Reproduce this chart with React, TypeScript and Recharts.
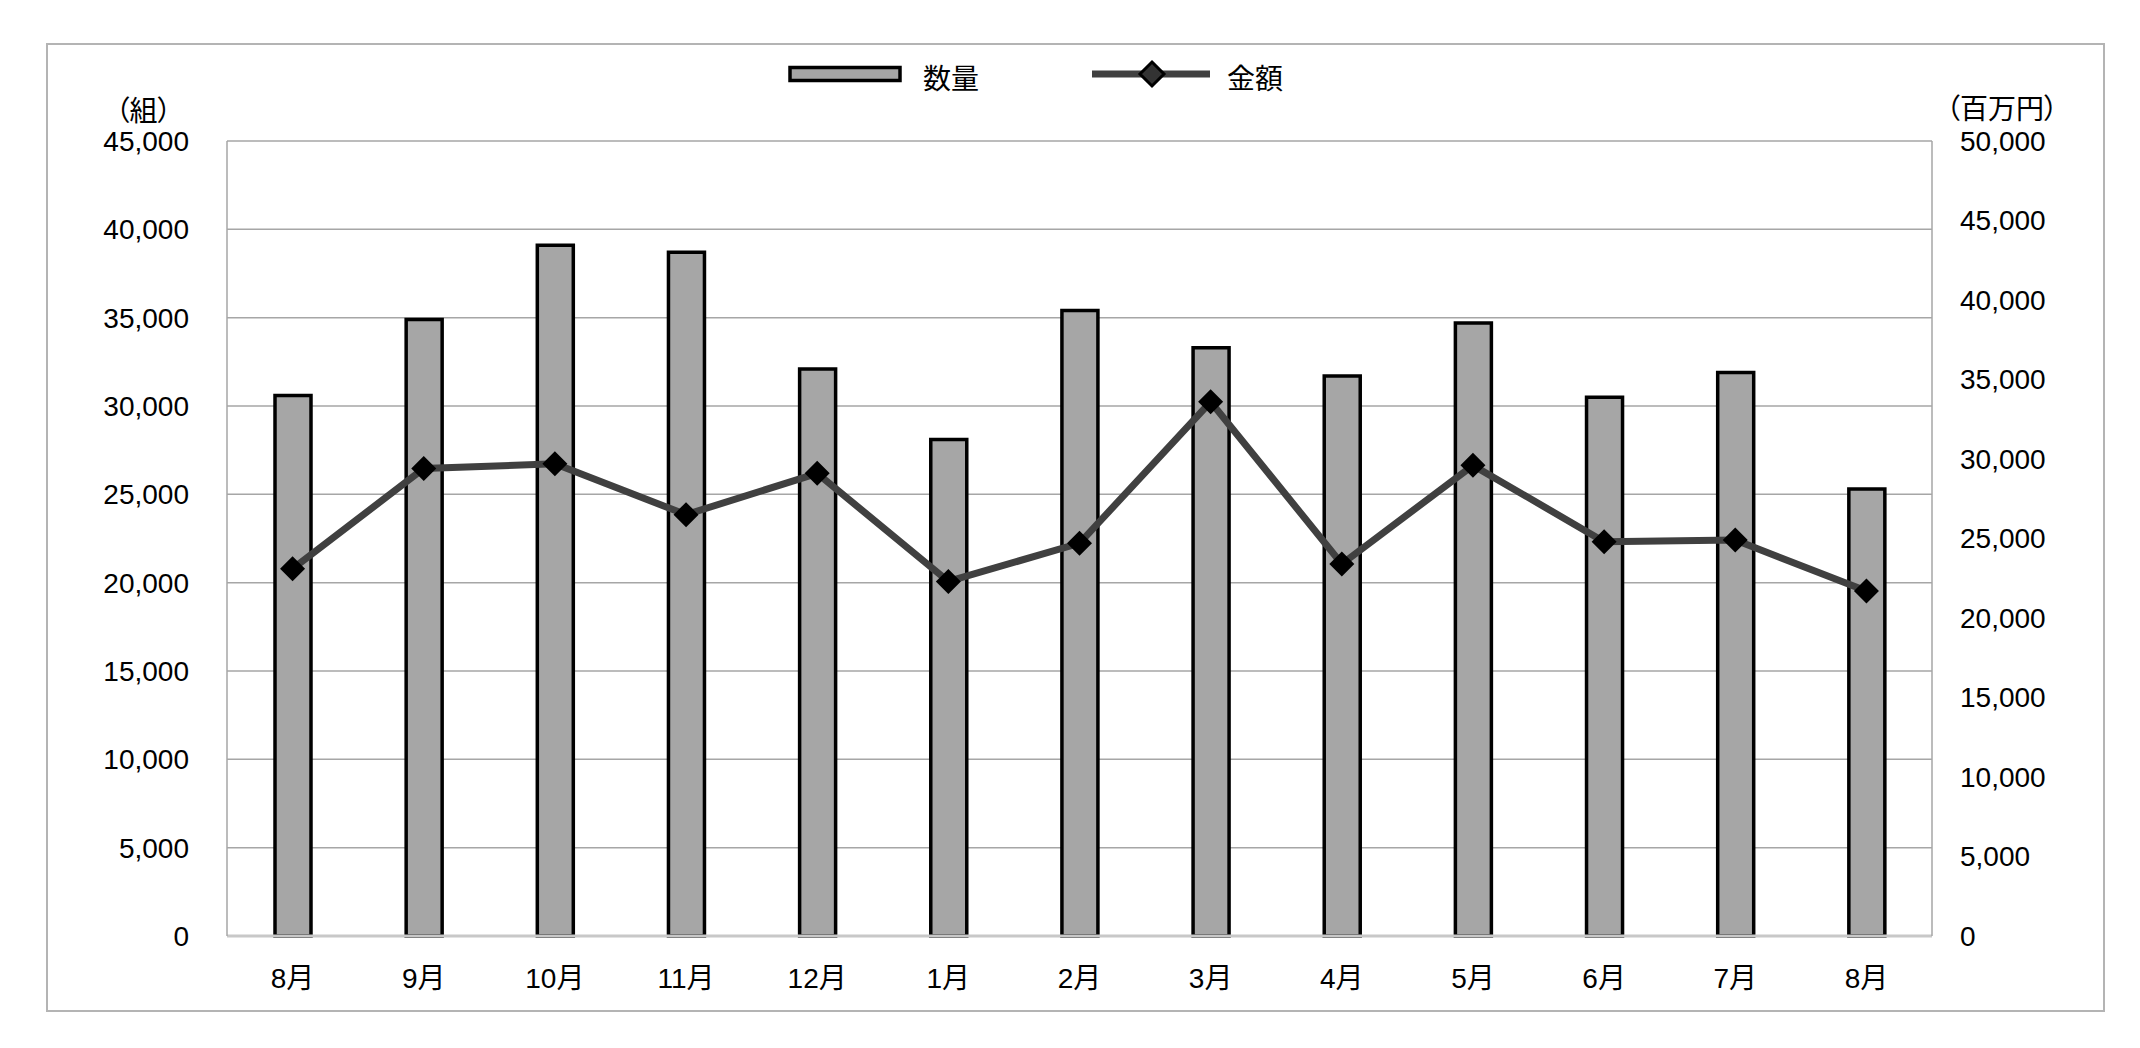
import { ComposedChart, Bar, Line, XAxis, YAxis, CartesianGrid, Legend } from 'recharts';

// categories and series
const months = ['8月', '9月', '10月', '11月', '12月', '1月', '2月', '3月', '4月', '5月', '6月', '7月', '8月'];
const quantity = [30600, 34900, 39100, 38700, 32100, 28100, 35400, 33300, 31700, 34700, 30500, 31900, 25300];
const amount = [23100, 29400, 29700, 26500, 29100, 22300, 24700, 33600, 23400, 29600, 24800, 24900, 21700];
const leftTicks = [0, 5000, 10000, 15000, 20000, 25000, 30000, 35000, 40000, 45000];
const rightTicks = [0, 5000, 10000, 15000, 20000, 25000, 30000, 35000, 40000, 45000, 50000];

const data = months.map((m, i) => ({ month: m, qty: quantity[i], amt: amount[i] }));

const FONT = "'Liberation Sans', 'Noto Sans CJK JP', sans-serif";
const tickStyle = { fontSize: 28, fill: '#000', fontFamily: FONT };
const fmt = (v: number) => v.toLocaleString('en-US');

function Diamond(props: any) {
  const { cx, cy, index } = props;
  if (cx == null || cy == null) return null;
  const r = 12.5;
  return (
    <polygon
      key={`dia-${index}`}
      points={`${cx},${cy - r} ${cx + r},${cy} ${cx},${cy + r} ${cx - r},${cy}`}
      fill="#000"
    />
  );
}

function LegendBox() {
  return (
    <svg width={2140} height={130} style={{ display: 'block' }}>
      <rect x={790} y={67.5} width={110} height={13} fill="#a6a6a6" stroke="#000" strokeWidth={3.5} />
      <text x={923} y={89} fontSize={28} fontFamily={FONT} fill="#000">数量</text>
      <line x1={1092} y1={74} x2={1210} y2={74} stroke="#404040" strokeWidth={7} />
      <polygon points="1152,62 1164,74 1152,86 1140,74" fill="#333" stroke="#000" strokeWidth={3} />
      <text x={1227} y={89} fontSize={28} fontFamily={FONT} fill="#000">金額</text>
    </svg>
  );
}

export default function App() {
  return (
    <div style={{ position: 'absolute', left: 0, top: 0, width: 2140, height: 1048, background: '#fff' }}>
      <div
        style={{
          position: 'absolute',
          left: 46,
          top: 43,
          width: 2055,
          height: 965,
          border: '2px solid #b4b4b4',
        }}
      />
      <ComposedChart
        width={2140}
        height={1048}
        data={data}
        margin={{ top: 141, right: 0, bottom: 0, left: 0 }}
        style={{ fontFamily: FONT }}
      >
        <CartesianGrid yAxisId="left" vertical={false} stroke="#a6a6a6" strokeWidth={1.5} />
        <XAxis
          dataKey="month"
          height={112}
          tickLine={false}
          tickSize={0}
          tickMargin={32}
          axisLine={{ stroke: '#c8c8c8', strokeWidth: 3 }}
          tick={tickStyle}
          interval={0}
        />
        <YAxis
          yAxisId="left"
          width={227}
          domain={[0, 45000]}
          ticks={leftTicks}
          tickFormatter={fmt}
          tickLine={false}
          tickSize={0}
          tickMargin={38}
          axisLine={{ stroke: '#a6a6a6', strokeWidth: 1.5 }}
          tick={tickStyle}
          label={{ value: '（組）', position: 'top', offset: 20, dx: 30, style: { ...tickStyle, fontFeatureSettings: '"palt"' } }}
        />
        <YAxis
          yAxisId="right"
          orientation="right"
          width={208}
          domain={[0, 50000]}
          ticks={rightTicks}
          tickFormatter={fmt}
          tickLine={false}
          tickSize={0}
          tickMargin={28}
          axisLine={{ stroke: '#a6a6a6', strokeWidth: 1.5 }}
          tick={{ ...tickStyle, textAnchor: 'start' }}
          label={{ value: '（百万円）', position: 'top', offset: 22, dx: -34, style: { ...tickStyle, fontFeatureSettings: '"palt"' } }}
        />
        <Legend
          layout="horizontal"
          verticalAlign="middle"
          wrapperStyle={{ top: 0, left: 0, width: 2140 }}
          content={() => <LegendBox />}
        />
        <Bar
          yAxisId="left"
          dataKey="qty"
          name="数量"
          barSize={36}
          fill="#a6a6a6"
          stroke="#000"
          strokeWidth={3.5}
          isAnimationActive={false}
        />
        <Line
          yAxisId="right"
          dataKey="amt"
          name="金額"
          type="linear"
          stroke="#404040"
          strokeWidth={7}
          dot={Diamond}
          activeDot={false}
          isAnimationActive={false}
        />
      </ComposedChart>
    </div>
  );
}
